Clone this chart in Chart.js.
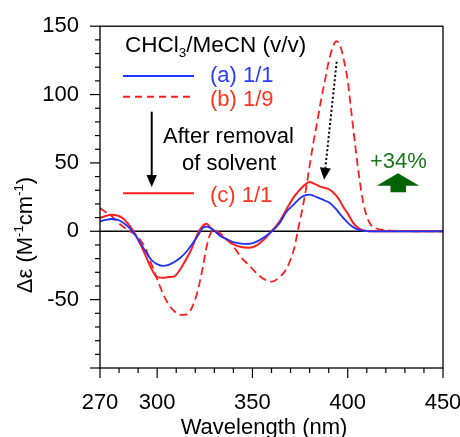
<!DOCTYPE html>
<html><head><meta charset="utf-8">
<script src="https://cdn.jsdelivr.net/npm/chart.js@4/dist/chart.umd.min.js"></script>
<style>html,body{margin:0;padding:0;background:#fff;overflow:hidden}</style>
</head><body>
<canvas id="c" width="460" height="437"></canvas>
<script>
// ---- data ----
const wavelengths = [270,273,276,279,282,285,288,291,294,297,300,303,306,309,312,315,318,321,324,326,328,330,333,336,340,344,348,352,356,360,364,368,372,374,376,378,380,382,384,386,388,390,392,394,396,398,400,402,404,406,408,410,412,415,420,425,430,440,450];
const seriesA = [7.3,8.3,9.0,8.5,6.5,3.0,-1.8,-8,-15,-21,-24,-25.3,-24.5,-22.5,-19.5,-15.5,-10,-4,2.5,3.4,2.3,0.5,-3.2,-5.5,-8,-9,-9.2,-7.8,-4.5,-0.3,5.5,14.5,20,23,25.3,26.5,26.8,26,24.8,23.7,22.5,21.2,19,16,12.5,9.2,6.3,3.8,2,1,0.4,0.1,0,0,0,0,0,0,0];
const seriesB = [17,14,11.3,7,3.5,0.5,-2,-6,-13,-24,-35,-45.5,-53.5,-58.5,-61.2,-61,-56.5,-45,-26,-11,-1.5,0.8,-1.5,-5,-11,-19,-24.5,-30.5,-35,-36.8,-33.8,-27,-12,1.5,15,30,48,65,80,96,110,124,134,139,136,125,110,86,62,40,22,11,5,2,0.8,0.3,0.1,0,0];
const seriesC = [9.7,11.2,12,11.5,9.5,5,-1,-9,-18,-27.5,-33.5,-34,-33.5,-33,-28,-21,-13,-2.5,4,5.5,2.5,0.5,-3,-5.5,-9.5,-11.5,-12,-10.5,-6,0,6.8,16.5,25.5,29,32,34.5,36,35,33.8,32.5,31.7,30.9,29,26,22,17,13,8,4.2,2,0.8,0.2,0,0,0,0,0,0,0];
const seriesNames = ['(a) 1/1','(b) 1/9','(c) 1/1'];
const xTicks = [270,280,290,300,310,320,330,340,350,360,370,380,390,400,410,420,430,440,450];
const xTickLabels = [270,300,350,400,450];
const yTicks = [-100,-90,-80,-70,-60,-50,-40,-30,-20,-10,0,10,20,30,40,50,60,70,80,90,100,110,120,130,140,150];
const yTickLabels = [-50,0,50,100,150];
const arrowFrom = {x:394.2, y:124};
const arrowTo = {x:387.6, y:37.6};

const BLUE = 'rgb(30,50,255)';
const RED = 'rgb(255,30,30)';
const FAM = '"Liberation Sans", Arial, Helvetica, sans-serif';
const toXY = arr => wavelengths.map((w,i)=>({x:w, y:arr[i]}));

function richText(ctx, segs, x, y, size, align, color){
  const fonts = segs.map(s => (s[1]==='n'? size : size*0.6));
  let total = 0;
  const widths = segs.map((s,i)=>{ ctx.font = fonts[i]+'px '+FAM; const w = ctx.measureText(s[0]).width; total += w; return w;});
  let cx = align==='center' ? x - total/2 : x;
  ctx.fillStyle = color; ctx.textAlign='left'; ctx.textBaseline='alphabetic';
  segs.forEach((s,i)=>{
    ctx.font = fonts[i]+'px '+FAM;
    const dy = s[1]==='sub' ? size*0.2 : (s[1]==='sup' ? -size*0.4 : 0);
    ctx.fillText(s[0], cx, y+dy);
    cx += widths[i];
  });
}

const deco = {
  id:'deco',
  beforeDatasetsDraw(chart){
    const {ctx, chartArea:ca, scales:{x:xs, y:ys}} = chart;
    ctx.save();
    ctx.strokeStyle='#000'; ctx.lineWidth=1.5;
    const y0 = ys.getPixelForValue(0);
    ctx.beginPath(); ctx.moveTo(ca.left,y0); ctx.lineTo(ca.right,y0); ctx.stroke();
    ctx.restore();
  },
  afterDraw(chart){
    const {ctx, chartArea:ca, scales:{x:xs, y:ys}} = chart;
    ctx.save();
    // frame
    ctx.strokeStyle='#000'; ctx.lineWidth=1.3;
    ctx.strokeRect(ca.left, ca.top, ca.right-ca.left, ca.bottom-ca.top);
    // ticks
    ctx.lineWidth=1.2;
    xTicks.forEach(v=>{
      const px = xs.getPixelForValue(v);
      const len = xTickLabels.includes(v) ? 10 : 5;
      ctx.beginPath(); ctx.moveTo(px, ca.bottom); ctx.lineTo(px, ca.bottom+len); ctx.stroke();
    });
    yTicks.forEach(v=>{
      const py = ys.getPixelForValue(v);
      const len = (v % 50 === 0) ? 10 : 5;
      ctx.beginPath(); ctx.moveTo(ca.left-len, py); ctx.lineTo(ca.left, py); ctx.stroke();
    });
    // axis titles
    richText(ctx, [['Wavelength (nm)','n']], 264, 434, 22, 'center', '#000');
    ctx.save();
    ctx.translate(32, 235); ctx.rotate(-Math.PI/2);
    richText(ctx, [['\u0394\u03b5 (M','n'],['-1','sup'],['cm','n'],['-1','sup'],[')','n']], 0, 0, 22, 'center', '#000');
    ctx.restore();
    // legend block
    const L = ca.left;
    richText(ctx, [['CHCl','n'],['3','sub'],['/MeCN (v/v)','n']], L+25, 52, 22.5, 'left', '#000');
    ctx.lineWidth=2;
    ctx.strokeStyle=BLUE; ctx.beginPath(); ctx.moveTo(L+23,76); ctx.lineTo(L+94,76); ctx.stroke();
    ctx.strokeStyle=RED; ctx.setLineDash([7,5]); ctx.beginPath(); ctx.moveTo(L+23,96.7); ctx.lineTo(L+94,96.7); ctx.stroke();
    ctx.setLineDash([]);
    ctx.beginPath(); ctx.moveTo(L+23,193.3); ctx.lineTo(L+94,193.3); ctx.stroke();
    richText(ctx, [[seriesNames[0],'n']], L+110, 82, 22, 'left', 'rgb(40,60,255)');
    richText(ctx, [[seriesNames[1],'n']], L+110, 106, 22, 'left', 'rgb(255,50,30)');
    richText(ctx, [[seriesNames[2],'n']], L+110, 201.5, 22, 'left', 'rgb(255,50,30)');
    richText(ctx, [['After removal','n']], L+63, 142.7, 22, 'left', '#000');
    richText(ctx, [['of solvent','n']], L+129, 170, 22, 'center', '#000');
    // black arrow
    ctx.strokeStyle='#000'; ctx.fillStyle='#000'; ctx.lineWidth=2;
    ctx.beginPath(); ctx.moveTo(151.7,111.7); ctx.lineTo(151.7,176); ctx.stroke();
    ctx.beginPath(); ctx.moveTo(146.5,175); ctx.lineTo(156.9,175); ctx.lineTo(151.7,187); ctx.closePath(); ctx.fill();
    // dotted arrow
    const fx = xs.getPixelForValue(arrowFrom.x), fy = ys.getPixelForValue(arrowFrom.y);
    const tx = xs.getPixelForValue(arrowTo.x), ty = ys.getPixelForValue(arrowTo.y);
    const ang = Math.atan2(ty-fy, tx-fx);
    const hl = 12, hw = 5.5;
    const bx = tx - hl*Math.cos(ang), by = ty - hl*Math.sin(ang);
    ctx.setLineDash([2,2.4]); ctx.lineWidth=2;
    ctx.beginPath(); ctx.moveTo(fx,fy); ctx.lineTo(bx,by); ctx.stroke();
    ctx.setLineDash([]);
    ctx.beginPath(); ctx.moveTo(tx,ty);
    ctx.lineTo(bx + hw*Math.sin(ang), by - hw*Math.cos(ang));
    ctx.lineTo(bx - hw*Math.sin(ang), by + hw*Math.cos(ang));
    ctx.closePath(); ctx.fill();
    // +34% and green arrow
    richText(ctx, [['+34%','n']], 370, 168, 22, 'left', 'rgb(25,120,25)');
    ctx.fillStyle='rgb(0,100,0)';
    ctx.beginPath();
    ctx.moveTo(398,173.3); ctx.lineTo(419.3,185.7); ctx.lineTo(406,185.7); ctx.lineTo(406,192.3);
    ctx.lineTo(390.5,192.3); ctx.lineTo(390.5,185.7); ctx.lineTo(376.7,185.7); ctx.closePath(); ctx.fill();
    ctx.restore();
  }
};

new Chart(document.getElementById('c'), {
  type:'line',
  data:{ datasets:[
    {label:seriesNames[0], data:toXY(seriesA), borderColor:BLUE, borderWidth:1.8, pointRadius:0, fill:false, cubicInterpolationMode:'monotone'},
    {label:seriesNames[2], data:toXY(seriesC), borderColor:RED, borderWidth:2, pointRadius:0, fill:false, cubicInterpolationMode:'monotone'},
    {label:seriesNames[1], data:toXY(seriesB), borderColor:RED, borderWidth:1.8, borderDash:[8,4.5], pointRadius:0, fill:false, cubicInterpolationMode:'monotone'}
  ]},
  options:{
    responsive:false, devicePixelRatio:1, animation:false,
    layout:{padding:{top:24,right:17,left:0,bottom:0}},
    plugins:{legend:{display:false}, tooltip:{enabled:false}},
    scales:{
      x:{type:'linear', min:270, max:450,
        grid:{display:false}, border:{display:false},
        afterBuildTicks:s=>{ s.ticks = xTicks.map(v=>({value:v})); },
        afterFit:s=>{ s.height = 69; s.paddingLeft = 0; s.paddingRight = 0; },
        ticks:{autoSkip:false, maxRotation:0, minRotation:0, padding:14, color:'#000',
          font:{family:FAM, size:22},
          callback:v=> xTickLabels.includes(v) ? String(v) : ''}
      },
      y:{type:'linear', min:-100, max:150,
        grid:{display:false}, border:{display:false},
        afterBuildTicks:s=>{ s.ticks = yTicks.map(v=>({value:v})); },
        afterFit:s=>{ s.width = 100; },
        ticks:{autoSkip:false, padding:13, color:'#000',
          font:{family:FAM, size:22},
          callback:v=> yTickLabels.includes(v) ? String(v) : ''}
      }
    }
  },
  plugins:[deco]
});
</script>
</body></html>
